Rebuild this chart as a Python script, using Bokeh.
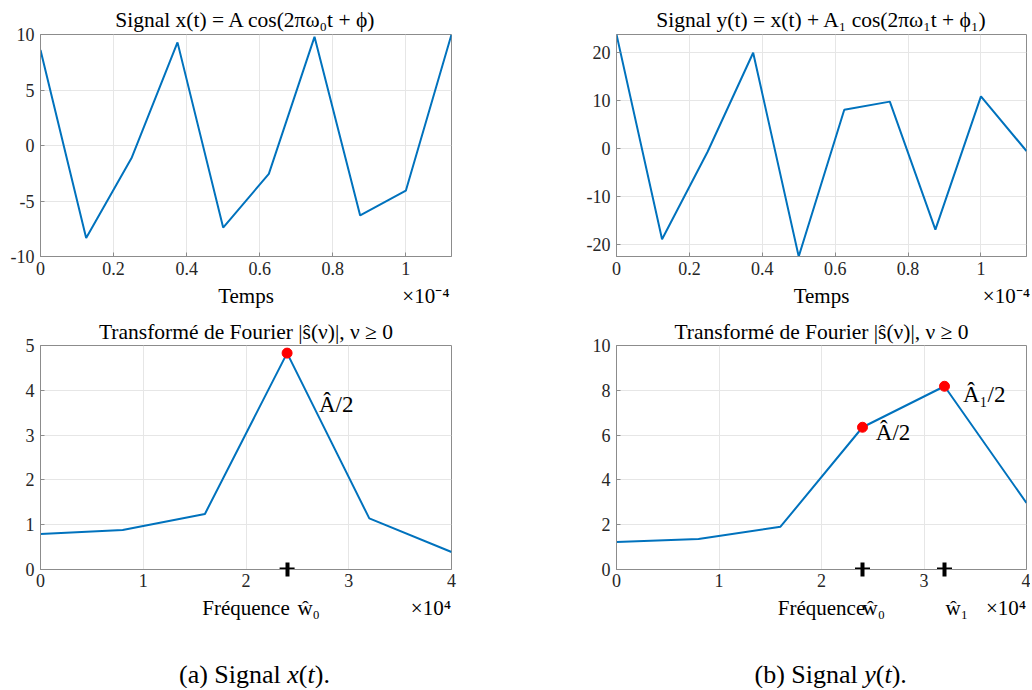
from bokeh.plotting import figure
from bokeh.layouts import column, row
from bokeh.models import Range1d, FixedTicker, NumeralTickFormatter, Label, LinearAxis
from bokeh.embed import file_html
from bokeh.resources import INLINE

# ---------------- data ----------------
time_e4 = [0.0, 0.125, 0.25, 0.375, 0.5, 0.625, 0.75, 0.875, 1.0, 1.125]   # x 1e-4 s
x_sig = [8.6, -8.34, -1.08, 9.29, -7.39, -2.56, 9.79, -6.30, -4.07, 10.0]
y_sig = [23.7, -19.0, -0.75, 19.9, -22.6, 8.0, 9.7, -17.0, 10.8, -0.6]

freq_e4 = [0.0, 0.8, 1.6, 2.4, 3.2, 4.0]                                   # x 1e4 Hz
x_spec = [0.79, 0.88, 1.24, 4.83, 1.14, 0.39]
y_spec = [1.23, 1.36, 1.91, 6.35, 8.18, 2.97]

x_peak_f = [2.4]
x_peak_a = [4.83]
y_peak_f = [2.4, 3.2]
y_peak_a = [6.35, 8.18]

time_ticks = [0, 0.2, 0.4, 0.6, 0.8, 1.0]
freq_ticks = [0, 1, 2, 3, 4]

titles = [
    "Signal x(t) = A cos(2πω₀t + ϕ)",
    "Signal y(t) = x(t) + A₁ cos(2πω₁t + ϕ₁)",
    "Transformé de Fourier |ŝ(ν)|, ν ≥ 0",
    "Transformé de Fourier |ŝ(ν)|, ν ≥ 0",
]

FONT = "Liberation Serif"
BLUE = "#0072BD"
TXT = "#262626"
GRAY = "#8c8c8c"


def make_fig(width, height, bl, br, bt, bb, title, xr, yr, xticks, yticks, tstand):
    p = figure(width=width, height=height, output_backend="svg", toolbar_location=None,
               x_range=Range1d(*xr), y_range=Range1d(*yr), x_axis_location=None,
               min_border_left=bl, min_border_right=br, min_border_top=bt, min_border_bottom=bb)
    p.title.text = title
    p.title.align = "center"
    p.title.text_font = FONT
    p.title.text_font_size = "21.5px"
    p.title.text_font_style = "normal"
    p.title.text_color = "#000000"
    p.title.standoff = tstand
    p.outline_line_color = GRAY
    p.outline_line_width = 1
    p.background_fill_color = "white"
    p.border_fill_color = "white"
    ax = p.yaxis[0]
    ax.axis_line_color = GRAY
    ax.major_tick_in = 4
    ax.major_tick_out = 0
    ax.major_tick_line_color = GRAY
    ax.minor_tick_line_color = None
    ax.major_label_text_font = FONT
    ax.major_label_text_font_size = "18px"
    ax.major_label_text_color = TXT
    ax.ticker = FixedTicker(ticks=yticks)
    ax.formatter = NumeralTickFormatter(format="0")
    ax.major_label_standoff = 6
    p.xgrid.ticker = FixedTicker(ticks=xticks)
    p.ygrid.ticker = FixedTicker(ticks=yticks)
    p.grid.grid_line_color = "#e6e6e6"
    p.grid.grid_line_width = 1
    return p


def tick_axis(p, xticks, standoff, tick_in=4, tick_out=0, tick_color=GRAY, tick_width=1):
    ax = LinearAxis(ticker=FixedTicker(ticks=xticks), formatter=NumeralTickFormatter(format="0.[0]"))
    ax.axis_line_color = GRAY
    ax.major_tick_in = tick_in
    ax.major_tick_out = tick_out
    ax.major_tick_line_color = tick_color
    ax.major_tick_line_width = tick_width
    ax.minor_tick_line_color = None
    ax.major_label_text_font = FONT
    ax.major_label_text_font_size = "18px"
    ax.major_label_text_color = TXT
    ax.major_label_standoff = standoff
    p.add_layout(ax, "below")
    return ax


def text_axis(p, positions, texts, standoff=0, size="21px"):
    ax = LinearAxis(ticker=FixedTicker(ticks=positions),
                    major_label_overrides={pos: t for pos, t in zip(positions, texts)})
    ax.axis_line_color = None
    ax.major_tick_line_color = None
    ax.minor_tick_line_color = None
    ax.major_label_text_font = FONT
    ax.major_label_text_font_size = size
    ax.major_label_text_color = "#000000"
    ax.major_label_standoff = standoff
    p.add_layout(ax, "below")
    return ax


def add_text(p, x, y, txt, size="23px", style="normal"):
    p.add_layout(Label(x=x, y=y, text=txt, text_font=FONT, text_font_size=size,
                       text_font_style=style, text_align="left", text_baseline="middle",
                       text_color="#000000"))


W1, W2 = 509, 521

# top-left
p1 = make_fig(W1, 310, 40, 58, 34, 51, titles[0], (0, 1.125), (-10, 10),
              time_ticks, [-10, -5, 0, 5, 10], 6)
p1.line(time_e4, x_sig, line_color=BLUE, line_width=2)
tick_axis(p1, time_ticks, 5)
text_axis(p1, [0.5625, 1.055], ["Temps", "×10⁻⁴"])

# top-right
p2 = make_fig(W2, 310, 107, 4, 34, 51, titles[1], (0, 1.125), (-22.6, 23.7),
              time_ticks, [-20, -10, 0, 10, 20], 6)
p2.line(time_e4, y_sig, line_color=BLUE, line_width=2)
tick_axis(p2, time_ticks, 5)
text_axis(p2, [0.5625, 1.070], ["Temps", "×10⁻⁴"])

# bottom-left
p3 = make_fig(W1, 312, 40, 58, 35, 52, titles[2], (0, 4), (0, 5),
              freq_ticks, [0, 1, 2, 3, 4, 5], 4)
p3.line(freq_e4, x_spec, line_color=BLUE, line_width=2)
p3.scatter(x_peak_f, x_peak_a, marker="circle", size=10, fill_color="red", line_color="red")
p3.scatter(x_peak_f, [0], marker="dash", size=15, line_color="black", line_width=4)
ca = tick_axis(p3, x_peak_f, 0, tick_in=7, tick_out=7, tick_color="black", tick_width=4)
ca.major_label_text_font_size = "1px"
ca.major_label_text_alpha = 0
lb = tick_axis(p3, freq_ticks, -3, tick_in=0, tick_out=0)
lb.axis_line_color = None
text_axis(p3, [2.0, 2.61, 3.80], ["Fréquence", "ŵ₀", "×10⁴"])
add_text(p3, 2.71, 3.68, "Â/2")

# bottom-right
p4 = make_fig(W2, 312, 107, 4, 35, 52, titles[3], (0, 4), (0, 10),
              freq_ticks, [0, 2, 4, 6, 8, 10], 4)
p4.line(freq_e4, y_spec, line_color=BLUE, line_width=2)
p4.scatter(y_peak_f, y_peak_a, marker="circle", size=10, fill_color="red", line_color="red")
p4.scatter(y_peak_f, [0, 0], marker="dash", size=15, line_color="black", line_width=4)
cb = tick_axis(p4, y_peak_f, 0, tick_in=7, tick_out=7, tick_color="black", tick_width=4)
cb.major_label_text_font_size = "1px"
cb.major_label_text_alpha = 0
lb4 = tick_axis(p4, freq_ticks, -3, tick_in=0, tick_out=0)
lb4.axis_line_color = None
text_axis(p4, [2.0, 2.51, 3.32, 3.80], ["Fréquence", "ŵ₀", "ŵ₁", "×10⁴"])
add_text(p4, 2.53, 6.13, "Â/2")
add_text(p4, 3.38, 7.82, "Â₁/2")

# captions (a) / (b), drawn in pixel-like data units of a blank strip
cap = figure(width=W1 + W2, height=66, output_backend="svg", toolbar_location=None,
             x_range=Range1d(0, W1 + W2), y_range=Range1d(0, 66),
             x_axis_location=None, y_axis_location=None,
             min_border=0, min_border_left=0, min_border_right=0,
             min_border_top=0, min_border_bottom=0)
cap.outline_line_color = None
cap.grid.visible = False
cap_size = "26px"
em = 26.0
cap_pieces = [
    # (start_x, [(text, style, width_em), ...])
    (178.5, [("(a) Signal ", "normal", 4.166), ("x", "italic", 0.444), ("(", "normal", 0.333),
             ("t", "italic", 0.278), (").", "normal", 0.583)]),
    (754.0, [("(b) Signal ", "normal", 4.222), ("y", "italic", 0.444), ("(", "normal", 0.333),
             ("t", "italic", 0.278), (").", "normal", 0.583)]),
]
for x0, parts in cap_pieces:
    xc = x0
    for txt, st, w in parts:
        add_text(cap, xc, 14, txt, size=cap_size, style=st)
        xc += w * em

layout = column(row(p1, p2), row(p3, p4), cap)
open("out.html", "w").write(file_html(layout, INLINE))
